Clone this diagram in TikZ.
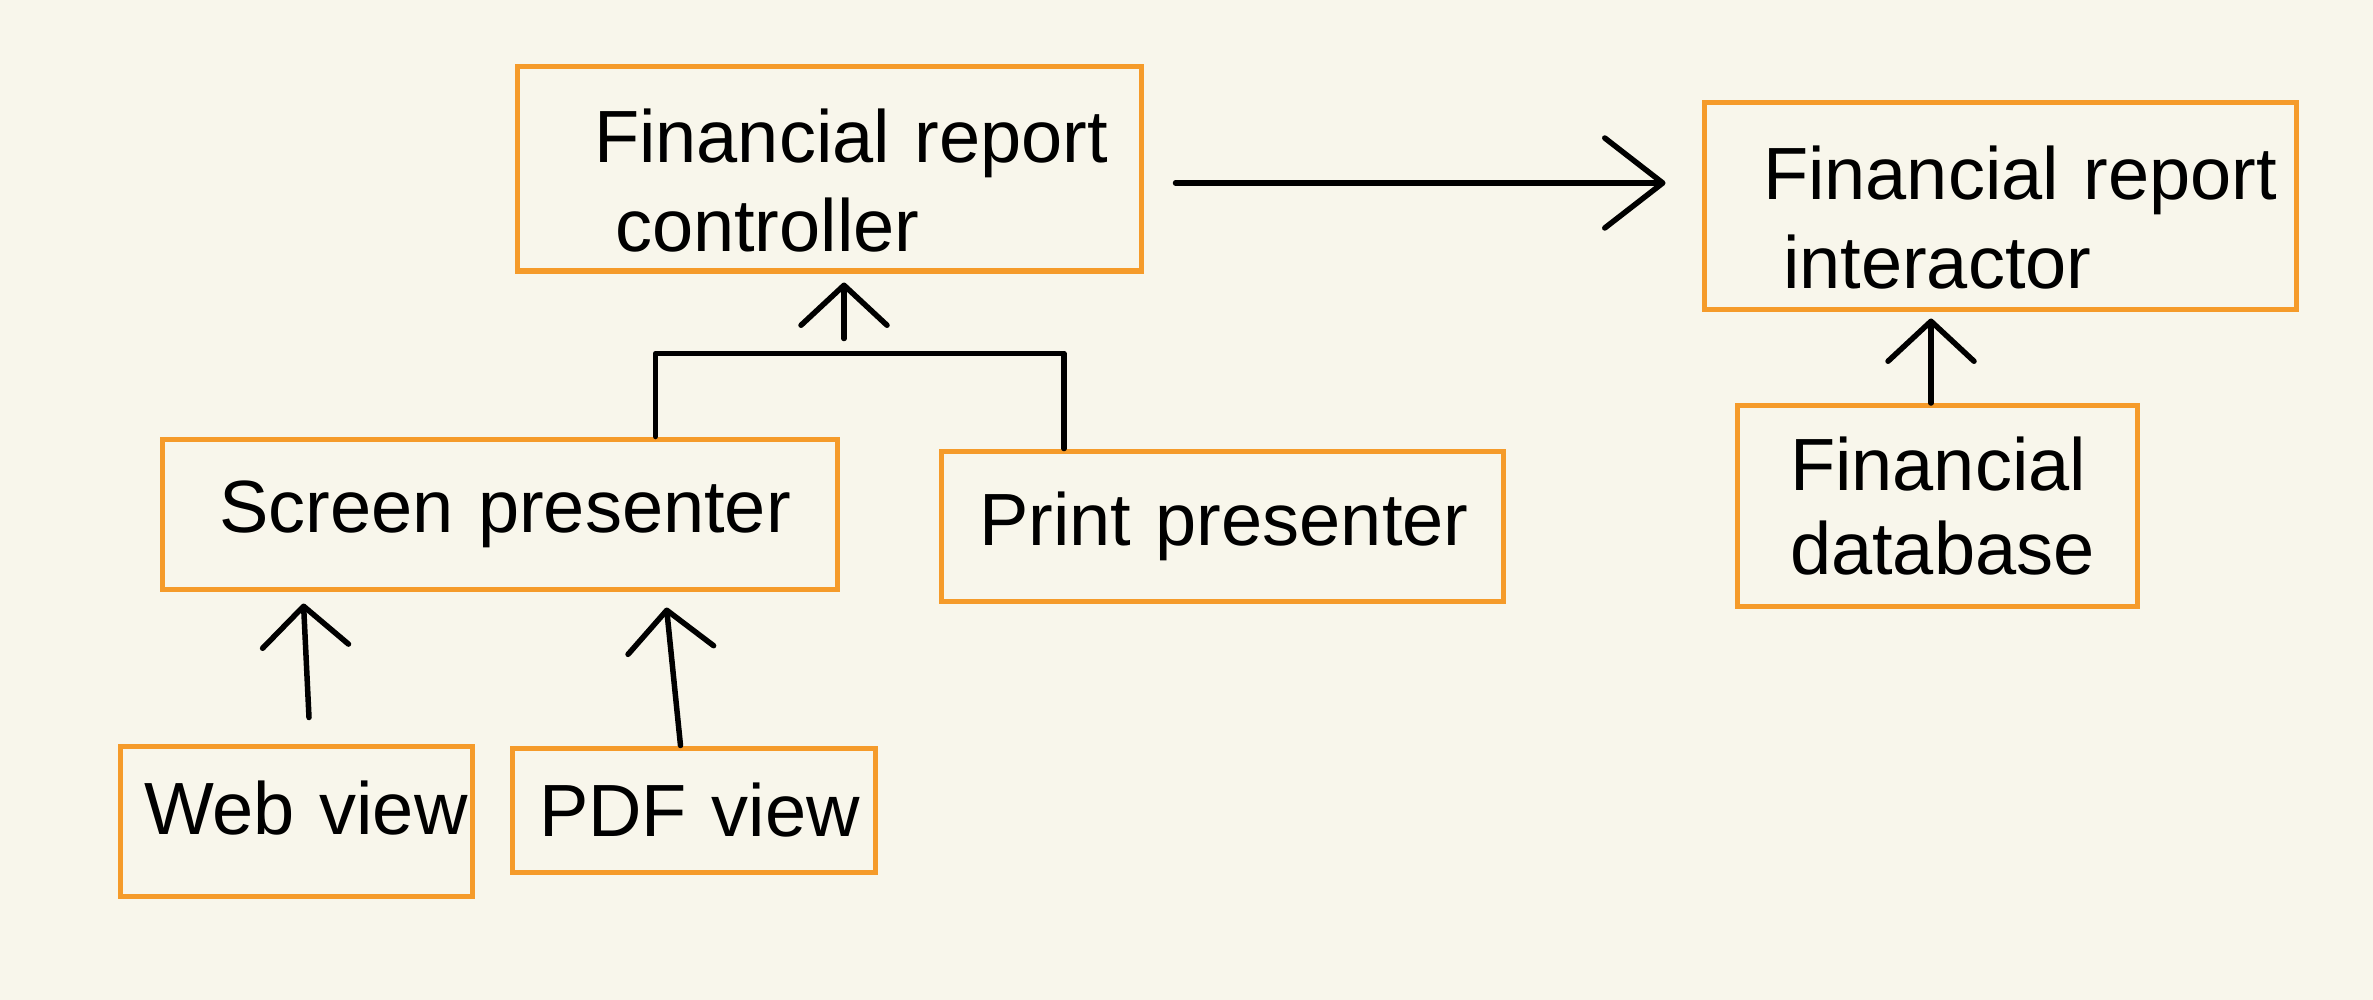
\documentclass[tikz,border=0pt]{standalone}
\usepackage{fontspec}
\setmainfont{Liberation Sans}
\usetikzlibrary{arrows.meta}
\definecolor{paper}{HTML}{F8F6EB}
\definecolor{boxorange}{HTML}{F59B2A}

\begin{document}
\begin{tikzpicture}[x=1pt,y=-1pt,
  box/.style={draw=boxorange, line width=5pt, align=left, inner xsep=0pt, inner ysep=0pt,
    font=\fontsize{74}{89}\selectfont},
  wire/.style={line width=5.5pt, line cap=round, line join=round},
  arr/.style={wire, -{Straight Barb[length=40pt,width=86pt,round]}}]
\fill[paper] (0,0) rectangle (2373,1000);
% boxes
\node[box, text width=624pt, minimum height=204pt] (ctrl) at (829,169)
  {\rule{0pt}{76pt}\hspace*{77pt}Financial report\\\hspace*{98pt}controller};
\node[box, text width=592pt, minimum height=206pt] (inter) at (2000,206)
  {\rule{0pt}{76pt}\hspace*{59pt}Financial report\\\hspace*{79pt}interactor};
\node[box, text width=675pt, minimum height=150pt] (scr) at (499.5,514)
  {\hspace*{57pt}Screen presenter};
\node[box, text width=562pt, minimum height=150pt] (prt) at (1222,526)
  {\hspace*{38pt}Print presenter};
\node[box, text width=400pt, minimum height=201pt, font=\fontsize{74}{84}\selectfont] (db) at (1937,506)
  {\hspace*{53pt}Financial\\\hspace*{53pt}database};
\node[box, text width=352pt, minimum height=150pt, text depth=26pt] (web) at (296,821)
  {\hspace*{24pt}Web view};
\node[box, text width=363pt, minimum height=124pt] (pdf) at (693.5,810)
  {\hspace*{27pt}PDF view};
% connectors
\coordinate (c1) at ([xshift=32pt,yshift=-14pt]ctrl.east);
\coordinate (c2) at (inter.west |- c1);
\draw[wire, -{Straight Barb[length=58pt,width=90pt,round]}] (c1) -- ([xshift=-36pt]c2);
\coordinate (join) at ([xshift=15pt,yshift=-80pt]ctrl.south);
\draw[wire] ([xshift=156pt]scr.north) |- (join) -| ([xshift=-158pt]prt.north);
\draw[arr] ([yshift=15pt]join) -- ([xshift=15pt,yshift=-9pt]ctrl.south);
\draw[arr] ([xshift=13pt,yshift=26pt]web.north) -- ([xshift=-196pt,yshift=-12pt]scr.south);
\draw[arr] ([xshift=-13pt]pdf.north) -- ([xshift=167pt,yshift=-16pt]scr.south);
\draw[arr] ([xshift=-6pt]db.north) -- ([xshift=-69pt,yshift=-7pt]inter.south);
\end{tikzpicture}
\end{document}
